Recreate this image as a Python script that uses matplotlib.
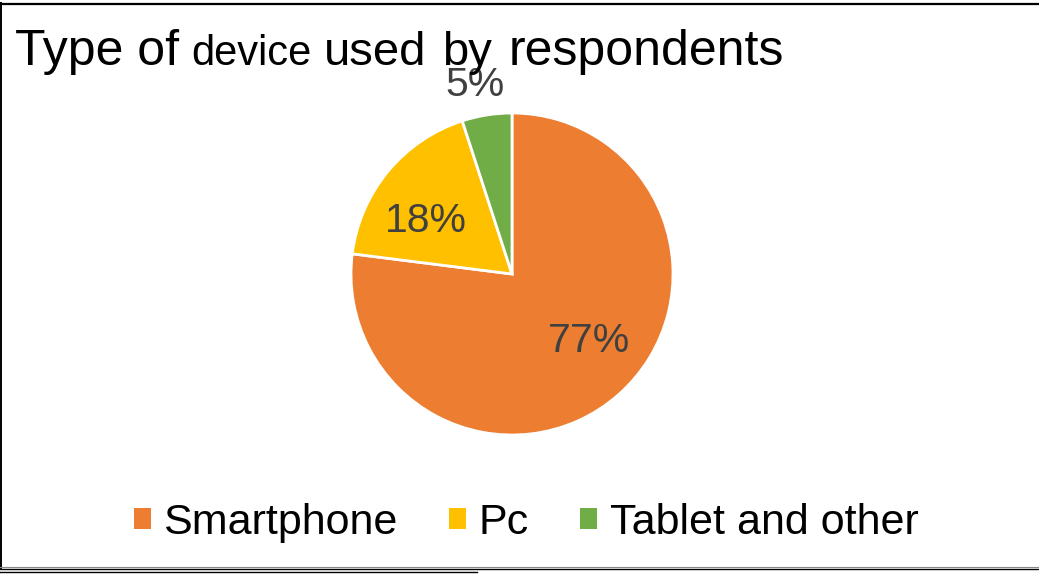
import matplotlib
matplotlib.use('Agg')

import matplotlib.pyplot as plt
from matplotlib.patches import Patch
from matplotlib.lines import Line2D
import numpy as np

categories = ["Smartphone", "Pc", "Tablet and other"]
shares = [77, 18, 5]
colors = ["#ED7D31", "#FFC000", "#70AD47"]

W, H = 1039, 574
plt.rcParams['font.family'] = ['Liberation Sans', 'DejaVu Sans']

fig = plt.figure(figsize=(W / 100, H / 100), dpi=100)


def px(x, y):
    return x / W, 1 - y / H


# pie area, centre (512, 274), radius 161 px
cx, cy, r = 512, 274, 161
ax = fig.add_axes([(cx - r) / W, (H - cy - r) / H, 2 * r / W, 2 * r / H])
wedges, _ = ax.pie(shares, colors=colors, startangle=90, counterclock=False,
                   wedgeprops=dict(edgecolor="white", linewidth=2))
ax.set_xlim(-1, 1)
ax.set_ylim(-1, 1)
ax.axis('off')

# data labels: (radius fraction, angle shift in degrees) from each wedge's mid angle
label_place = [(0.635, 7.5), (0.63, 8.0), (1.196, 2.0)]
for w, v, (d, shift) in zip(wedges, shares, label_place):
    mid = np.deg2rad((w.theta1 + w.theta2) / 2 + shift)
    ax.text(d * np.cos(mid), d * np.sin(mid), "%d%%" % v, ha='center', va='center',
            fontsize=29.5, color="#404040", clip_on=False)

# title, words with mixed sizes on one baseline
title_words = [("Type of", 15, 36), ("device", 191, 30), ("used", 324, 34),
               ("by", 442, 34), ("respondents", 509, 36)]
for word, x, size in title_words:
    fig.text(*px(x, 65), word, fontsize=size, ha='left', va='baseline', color="black")

handles = [Patch(facecolor=c, edgecolor='none') for c in colors]
fig.legend(handles, categories, loc='center', bbox_to_anchor=px(526, 523), ncol=3,
           frameon=False, fontsize=31, handlelength=0.4, handleheight=0.4,
           handletextpad=0.28, columnspacing=1.2, borderpad=0, borderaxespad=0)

# frame lines
fig.add_artist(Line2D([0, 1], [px(0, 3.5)[1]] * 2, transform=fig.transFigure,
                      color="black", linewidth=1.6))
fig.add_artist(Line2D([px(0.8, 0)[0]] * 2, [px(0, 3)[1], px(0, 568)[1]],
                      transform=fig.transFigure, color="black", linewidth=1.4))
fig.add_artist(Line2D([0, 1], [px(0, 567)[1]] * 2, transform=fig.transFigure,
                      color="#888888", linewidth=0.8))
fig.add_artist(Line2D([0, 1], [px(0, 568.7)[1]] * 2, transform=fig.transFigure,
                      color="black", linewidth=1.0))
fig.add_artist(Line2D([0, px(477, 0)[0]], [px(0, 572.3)[1]] * 2, transform=fig.transFigure,
                      color="black", linewidth=1.0))

fig.savefig("out.png", dpi=100)
